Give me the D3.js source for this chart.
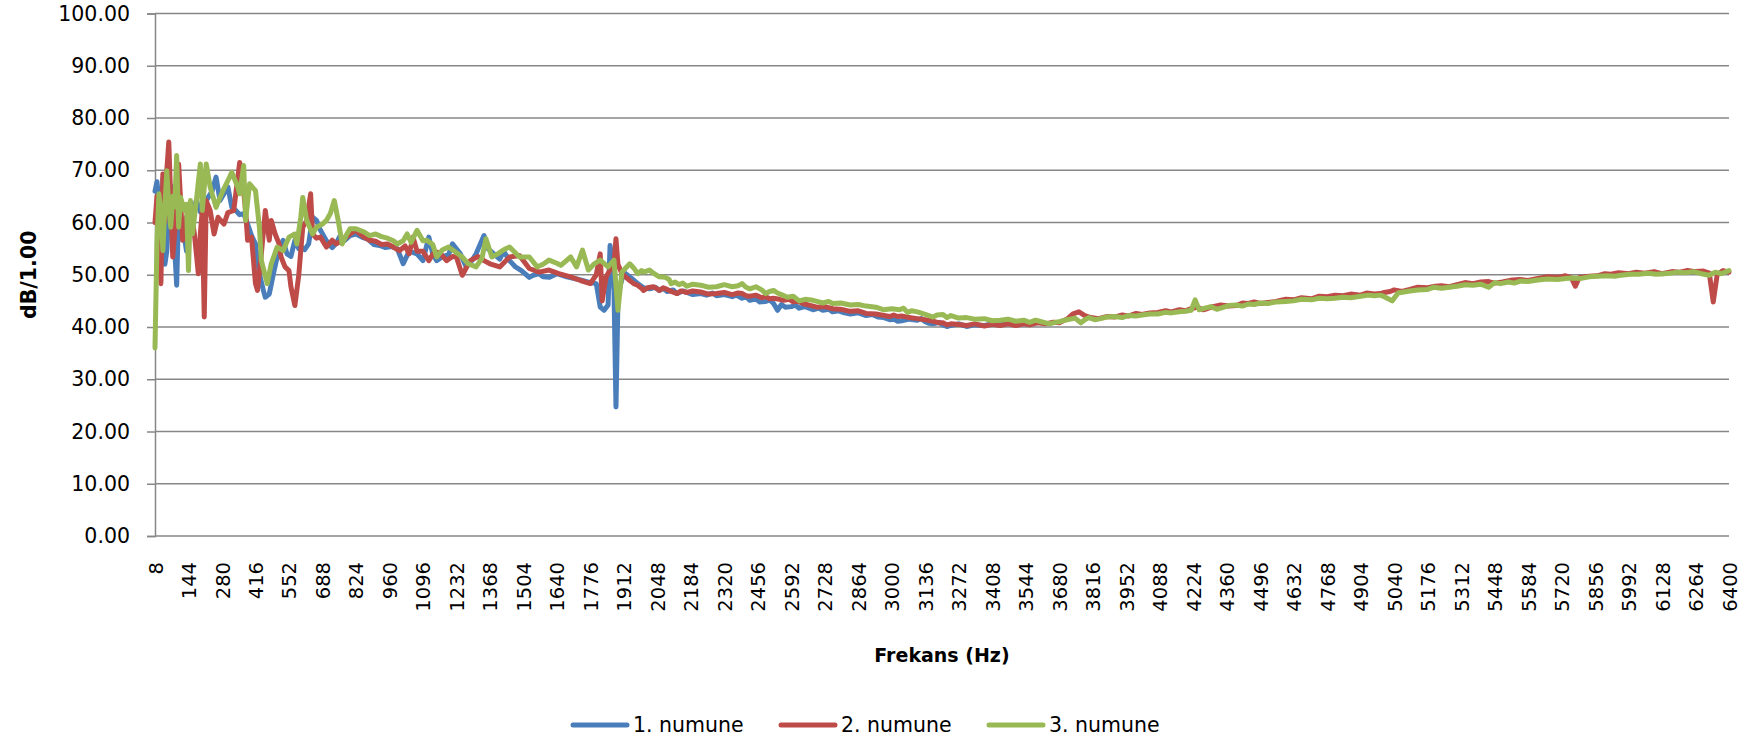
<!DOCTYPE html>
<html>
<head>
<meta charset="utf-8">
<script src="https://cdn.jsdelivr.net/npm/d3@7"></script>
<style>
  html, body { margin: 0; padding: 0; background: #ffffff; }
  svg { display: block; }
</style>
</head>
<body>
<svg id="chart" width="1746" height="741"></svg>
<script>
// ---- data ----
const seriesNames = ["1. numune", "2. numune", "3. numune"];
const seriesColors = ["#4A7EBB", "#BE4B48", "#98B954"];
const xTickLabels = [8,144,280,416,552,688,824,960,1096,1232,1368,1504,1640,1776,1912,2048,2184,2320,2456,2592,2728,2864,3000,3136,3272,3408,3544,3680,3816,3952,4088,4224,4360,4496,4632,4768,4904,5040,5176,5312,5448,5584,5720,5856,5992,6128,6264,6400];
const yTickValues = [0,10,20,30,40,50,60,70,80,90,100];

// [Hz, dB]
const numune1 = [[8,66],[16,67.8],[24,64],[32,55],[40,68.5],[48,52],[56,54.5],[64,63],[72,67],[80,62.5],[88,55],[96,48],[104,62.5],[112,61],[120,59.5],[136,54.5],[152,60],[168,63],[176,64.2],[192,62],[208,63.5],[224,64.8],[240,66],[256,68.7],[272,64.2],[288,65.5],[304,66.8],[320,62.9],[336,62.3],[352,61.5],[368,61.7],[384,59.7],[400,57.5],[416,55.9],[432,50.2],[448,47],[456,45.7],[472,46.3],[488,50],[504,53.4],[520,55.5],[528,56.6],[544,54],[560,53.5],[576,56.6],[592,55],[600,55.3],[616,54.8],[632,55.9],[648,61],[664,60.4],[680,58.5],[696,57.2],[712,55.9],[728,55.2],[744,56],[760,57.5],[776,56.5],[800,57.5],[824,57.8],[848,57.2],[872,56.8],[896,55.8],[920,55.6],[944,55.2],[968,55.4],[992,55],[1016,52.1],[1040,54.5],[1072,54],[1096,52.7],[1120,57.2],[1136,54],[1152,52.7],[1176,53.5],[1200,53.8],[1216,55.9],[1248,54],[1272,51.5],[1296,52.8],[1312,54],[1344,57.5],[1360,55],[1384,54],[1408,53],[1424,54.5],[1448,52.7],[1472,51.5],[1496,50.8],[1528,49.5],[1544,49.9],[1568,50.2],[1584,49.6],[1608,49.5],[1640,50.2],[1680,49.6],[1720,49.2],[1744,48.9],[1776,48.5],[1800,48.3],[1816,43.8],[1832,43.2],[1848,44.2],[1856,55.6],[1864,52],[1872,47],[1880,24.7],[1888,45],[1896,47.7],[1912,50.5],[1936,49.6],[1952,49],[1968,48.3],[1992,47.5],[2016,47.3],[2040,47.6],[2056,47],[2072,47.4],[2088,46.8],[2112,47.1],[2128,46.4],[2152,46.9],[2168,46.6],[2192,46.2],[2224,46.4],[2248,46.1],[2272,46.5],[2288,46],[2320,46.2],[2352,45.8],[2368,46.1],[2392,45.5],[2408,45.8],[2424,45.1],[2448,45.4],[2464,44.8],[2488,44.9],[2504,45.2],[2520,44.5],[2536,43.2],[2552,44.3],[2568,43.8],[2592,43.9],[2608,44.2],[2624,43.6],[2648,43.9],[2680,43.3],[2704,43.6],[2720,43.2],[2744,43.4],[2760,42.9],[2784,43.1],[2808,42.7],[2832,42.5],[2864,42.7],[2896,42.2],[2920,42.4],[2944,41.9],[2968,41.8],[2992,41.4],[3008,41.5],[3024,41.1],[3040,41.2],[3072,41.5],[3104,41.3],[3120,41.6],[3136,41],[3152,40.7],[3168,40.6],[3192,40.9],[3208,40.4],[3224,40.1],[3240,40.3],[3272,40.6],[3304,40.1],[3336,40.4],[3376,40.3],[3408,40.6],[3440,40.4],[3472,40.8],[3500,40.6],[3528,40.3],[3560,40.6],[3592,41],[3620,40.9],[3640,40.5],[3656,40.1],[3672,39.5],[3688,39.8],[3712,40.5],[3736,41.8],[3752,41.3],[3768,42.2],[3784,41.5],[3800,41.6],[3824,42],[3848,41.8],[3872,41.5],[3904,41.9],[3928,42.2],[3960,42],[3984,42.4],[4016,42.3],[4048,42.7],[4080,42.6],[4112,42.9],[4136,42.9],[4160,42.6],[4192,43],[4216,43.3],[4240,43.5],[4256,43.1],[4272,44],[4288,43.5],[4312,43.6],[4336,44.3],[4352,44.4],[4368,43.9],[4384,44.1],[4416,44.5],[4440,44.3],[4472,44.7],[4496,44.5],[4528,44.9],[4560,44.8],[4592,45.1],[4632,45.1],[4664,45.4],[4700,45.3],[4736,45.7],[4768,45.6],[4800,46],[4832,45.9],[4872,46.3],[4904,46.1],[4936,46.6],[4960,46.4],[4992,46.8],[5016,46.3],[5048,46.9],[5072,46.9],[5096,47.3],[5120,47],[5152,47.6],[5176,47.6],[5208,47.9],[5232,47.4],[5264,48.2],[5296,48.3],[5320,48.8],[5344,48.5],[5376,48.9],[5400,48],[5424,48.6],[5448,48.8],[5480,49.2],[5504,49],[5528,49.3],[5552,48.8],[5576,49.4],[5600,49.5],[5632,49.8],[5656,49.4],[5688,49.9],[5720,49.6],[5752,49.9],[5776,49.8],[5808,50.1],[5840,49.8],[5872,50.2],[5904,50],[5936,50.4],[5960,50.1],[5992,50.5],[6016,50.4],[6048,50.6],[6072,50.2],[6104,50.6],[6128,50.3],[6160,50.7],[6184,50.5],[6216,50.3],[6240,50.4],[6272,50.7],[6296,50.3],[6320,50.6],[6336,50.5],[6360,51.2],[6384,51.5],[6400,51]];

const numune2 = [[8,60],[16,65],[24,57],[32,48.3],[40,69.3],[48,60],[56,70],[64,75.4],[72,64.2],[80,53.4],[88,58],[96,62.3],[104,71.2],[112,64.2],[120,56.6],[136,61],[152,62.9],[168,57.8],[184,50.2],[192,57.8],[200,62.3],[208,41.9],[216,64.2],[232,62.3],[248,57.8],[264,61],[288,59.7],[304,61.9],[328,62.3],[336,65.5],[352,71.5],[368,66],[376,62.3],[384,56.6],[400,57.2],[416,48.3],[424,47],[440,54],[456,62.3],[472,56.6],[480,60.4],[496,57.8],[512,55.9],[520,53.4],[536,51.5],[552,50.8],[560,47.7],[576,44.1],[592,50],[600,54.6],[608,59.1],[624,60.4],[640,65.5],[648,57.8],[664,57],[680,57.2],[704,55.3],[728,56.6],[744,55.9],[768,56.6],[800,57.8],[824,58.5],[856,57.2],[880,56.6],[904,56.4],[928,55.8],[952,55.9],[976,55.3],[1000,54.6],[1024,55.5],[1040,54],[1056,57.2],[1072,54.5],[1096,54.5],[1120,52.7],[1144,54.5],[1168,54],[1192,52.7],[1216,53.5],[1232,53.4],[1256,49.9],[1288,52.7],[1320,53.5],[1344,52.7],[1368,52.1],[1408,51.5],[1448,53.4],[1488,53.7],[1528,51.2],[1568,50.5],[1608,50.9],[1648,50.2],[1696,49.6],[1736,48.9],[1776,48.3],[1800,50],[1816,54],[1824,45],[1840,49.6],[1856,50.9],[1872,52.1],[1880,56.9],[1888,52],[1904,50.2],[1936,48.9],[1952,48.3],[1968,48],[1984,47.4],[1992,47],[2008,47.5],[2032,47.7],[2048,47.3],[2056,47],[2072,47.5],[2088,47.2],[2104,46.8],[2128,46.4],[2144,46.9],[2168,46.6],[2192,46.9],[2224,46.7],[2256,46.3],[2288,46.4],[2320,46.6],[2352,46.2],[2376,46.5],[2392,46.4],[2408,46],[2424,45.9],[2448,46.1],[2472,45.6],[2488,45.8],[2504,45.4],[2520,45.5],[2544,45.3],[2560,45.1],[2584,45.3],[2600,44.8],[2616,45],[2640,44.5],[2664,44.2],[2696,43.8],[2728,43.9],[2760,43.5],[2792,43.4],[2832,43],[2864,43.1],[2896,42.6],[2936,42.5],[2968,42.2],[2992,42],[3008,42.3],[3024,42],[3040,42.1],[3072,41.8],[3104,41.6],[3136,41.4],[3168,41.1],[3192,40.8],[3208,40.8],[3224,40.4],[3240,40.6],[3272,40.5],[3304,40.3],[3336,40.6],[3376,40.2],[3408,40.5],[3440,40.3],[3472,40.6],[3504,40.3],[3536,40.6],[3560,40.4],[3592,40.8],[3624,40.6],[3656,40.9],[3680,40.8],[3696,41.2],[3712,41.5],[3736,42.5],[3760,42.9],[3784,42.2],[3808,41.8],[3840,41.6],[3872,42],[3904,41.9],[3936,42.3],[3960,42.1],[3992,42.6],[4016,42.4],[4048,42.7],[4080,42.8],[4112,43.1],[4136,42.9],[4168,43.3],[4192,43.1],[4216,43.5],[4240,43.8],[4264,43.3],[4280,43.5],[4304,43.9],[4336,44.2],[4368,44],[4400,44.1],[4424,44.6],[4448,44.5],[4472,44.8],[4496,44.5],[4528,44.7],[4560,44.9],[4600,45.3],[4632,45.2],[4664,45.6],[4704,45.4],[4736,45.9],[4768,45.8],[4800,46.1],[4832,46],[4864,46.3],[4904,46.1],[4928,46.5],[4960,46.3],[4984,46.4],[5000,46.6],[5024,46.8],[5040,47.1],[5072,46.8],[5104,47.2],[5136,47.6],[5176,47.5],[5208,47.8],[5232,47.9],[5264,47.7],[5296,48.1],[5328,48.5],[5360,48.3],[5392,48.6],[5424,48.7],[5448,48.4],[5480,48.6],[5520,49],[5552,49.1],[5584,48.9],[5624,49.3],[5664,49.6],[5704,49.5],[5736,49.8],[5760,49.4],[5776,47.8],[5792,49.5],[5832,49.7],[5864,49.8],[5896,50.2],[5920,50.1],[5952,50.4],[5992,50.2],[6024,50.5],[6056,50.3],[6096,50.6],[6128,50.2],[6168,50.6],[6200,50.5],[6232,50.8],[6264,50.6],[6296,50.7],[6320,50.3],[6336,44.8],[6352,50],[6376,50.8],[6400,50.5]];

const numune3 = [[8,36],[16,56],[24,65.5],[32,62],[40,54.6],[48,63],[56,69.9],[64,63],[72,59.1],[80,65],[88,63],[96,72.8],[104,59.1],[112,64.8],[120,63.5],[128,62.3],[136,63.5],[144,50.8],[152,64.2],[160,57.8],[176,64.2],[192,71.2],[200,62.3],[216,71.2],[232,66.8],[256,62.9],[272,64.8],[288,66.5],[304,68],[320,69.6],[344,66.8],[352,65.5],[368,70.9],[376,60.4],[392,67.4],[416,66.1],[432,59.1],[440,52.7],[464,48.3],[480,52.1],[504,55.3],[528,54.6],[552,57.2],[576,57.8],[584,55.9],[600,61],[608,64.8],[624,60.4],[648,57.8],[664,59.1],[688,59.7],[704,60.4],[720,61.7],[736,64.2],[752,60.4],[768,55.9],[784,57.5],[800,58.8],[824,58.8],[856,58.2],[880,57.5],[904,57.8],[928,57.3],[952,57],[976,56.5],[992,55.9],[1016,56.5],[1032,57.8],[1048,56.2],[1072,58.5],[1096,56.5],[1112,56.6],[1136,55.8],[1152,53.4],[1176,54.8],[1200,55.3],[1224,54.5],[1256,53.4],[1280,52.1],[1312,51.5],[1336,53.2],[1352,56.9],[1376,53.4],[1400,54],[1424,54.8],[1448,55.3],[1488,53.4],[1528,53.4],[1560,51.5],[1584,52],[1608,52.8],[1640,52.2],[1656,51.8],[1696,53.4],[1720,51.5],[1744,54.7],[1768,50.9],[1792,52.1],[1816,52.8],[1848,51.5],[1872,52.8],[1888,43.2],[1904,50.5],[1912,50.9],[1936,52.1],[1952,51.3],[1968,50.2],[1984,50.8],[1992,50.5],[2016,50.9],[2032,50.3],[2056,49.6],[2080,49.5],[2096,49.1],[2104,48.3],[2120,48.6],[2136,48.1],[2152,48.4],[2168,47.8],[2192,48.2],[2224,48],[2256,47.6],[2288,47.7],[2320,48.1],[2352,47.7],[2376,47.9],[2392,48.3],[2408,47.6],[2424,47.3],[2448,47.7],[2472,47.1],[2488,46.4],[2504,46.8],[2520,47],[2536,46.5],[2552,46.2],[2576,45.7],[2600,45.9],[2624,45],[2648,45.3],[2680,45.1],[2704,44.8],[2720,44.6],[2744,44.9],[2760,44.5],[2792,44.6],[2832,44.2],[2864,44.3],[2896,44],[2936,43.8],[2968,43.3],[3000,43.5],[3032,43.3],[3048,43.6],[3064,42.8],[3080,43.1],[3104,42.9],[3136,42.4],[3168,41.9],[3184,42.3],[3208,42.4],[3224,41.8],[3240,42.2],[3272,41.7],[3304,41.8],[3336,41.5],[3376,41.6],[3408,41.2],[3440,41.3],[3472,41.5],[3504,41.1],[3536,41.3],[3560,40.9],[3584,41.3],[3600,41.1],[3640,40.6],[3664,40.9],[3680,41],[3712,41.4],[3744,41.7],[3768,40.8],[3784,41.4],[3800,41.8],[3824,41.4],[3848,41.6],[3872,41.9],[3904,42],[3936,41.8],[3960,42.2],[3992,42.1],[4016,42.3],[4048,42.5],[4080,42.5],[4112,42.8],[4136,42.7],[4168,42.9],[4192,43],[4216,43.2],[4232,45.2],[4248,43.3],[4272,43.6],[4296,43.9],[4320,43.4],[4336,43.6],[4368,44.1],[4400,44.2],[4424,44],[4448,44.4],[4472,44.3],[4496,44.6],[4528,44.5],[4560,44.8],[4600,44.9],[4632,45],[4664,45.3],[4704,45.2],[4736,45.5],[4768,45.4],[4800,45.5],[4832,45.7],[4864,45.6],[4904,45.9],[4936,46.1],[4960,46],[4984,46.1],[5000,45.8],[5016,45.4],[5032,45],[5056,46.5],[5080,46.7],[5104,46.9],[5136,47.1],[5176,47.2],[5200,47.6],[5232,47.4],[5264,47.6],[5296,47.8],[5328,48.1],[5360,48],[5392,48.2],[5424,47.6],[5448,48.5],[5472,48.3],[5504,48.6],[5528,48.4],[5552,48.8],[5584,48.7],[5624,49],[5664,49.2],[5704,49.1],[5736,49.3],[5760,49.4],[5800,49.3],[5832,49.6],[5864,49.7],[5904,49.8],[5936,49.7],[5960,49.9],[6000,50.1],[6032,50.1],[6072,50.3],[6104,50.1],[6136,50.2],[6160,50.3],[6192,50.5],[6224,50.4],[6256,50.6],[6288,50.2],[6320,49.9],[6344,50.5],[6368,50.2],[6400,50.8]];

const seriesData = [numune1, numune2, numune3];

// ---- layout ----
const svg = d3.select("#chart");
const plotLeft = 155, plotRight = 1729, plotTop = 13.5, plotBottom = 536;

const categories = d3.range(8, 6401, 8); // frequency categories of the axis
const x = d3.scalePoint().domain(categories).range([plotLeft, plotRight]);
const y = d3.scaleLinear().domain([0, 100]).range([plotBottom, plotTop]);

const gridColor = "#878787";
const tickFont = "'DejaVu Sans', sans-serif";

// gridlines
svg.append("g")
  .selectAll("line")
  .data(yTickValues)
  .join("line")
  .attr("x1", plotLeft).attr("x2", plotRight)
  .attr("y1", d => y(d)).attr("y2", d => y(d))
  .attr("stroke", gridColor).attr("stroke-width", 1.5);

// y axis
const yAxis = svg.append("g")
  .attr("transform", `translate(${plotLeft},0)`)
  .call(d3.axisLeft(y).tickValues(yTickValues).tickFormat(d3.format(".2f")).tickSize(8).tickPadding(17));
yAxis.select(".domain").attr("stroke", gridColor).attr("stroke-width", 1.5);
yAxis.selectAll(".tick line").attr("stroke", gridColor).attr("stroke-width", 1.5);
yAxis.selectAll("text")
  .attr("font-family", tickFont).attr("font-size", 20.5).attr("fill", "#000");

// x axis
const xAxis = svg.append("g")
  .attr("transform", `translate(0,${plotBottom})`)
  .call(d3.axisBottom(x).tickValues(xTickLabels).tickSize(0));
xAxis.select(".domain").remove();
xAxis.selectAll("text")
  .attr("font-family", tickFont).attr("font-size", 19.5).attr("fill", "#000")
  .attr("transform", "rotate(-90)")
  .attr("text-anchor", "end")
  .attr("x", -26).attr("y", 0).attr("dy", "0.36em");

// series lines
const line = d3.line()
  .x(d => x(d[0]))
  .y(d => y(d[1]));

svg.append("g")
  .selectAll("path")
  .data(seriesData)
  .join("path")
  .attr("d", d => line(d))
  .attr("fill", "none")
  .attr("stroke", (d, i) => seriesColors[i])
  .attr("stroke-width", 5)
  .attr("stroke-linejoin", "round")
  .attr("stroke-linecap", "round");

// axis titles
svg.append("text")
  .attr("x", (plotLeft + plotRight) / 2).attr("y", 662)
  .attr("text-anchor", "middle")
  .attr("font-family", tickFont).attr("font-weight", "bold").attr("font-size", 19)
  .text("Frekans (Hz)");

svg.append("text")
  .attr("transform", `translate(36,${(plotTop + plotBottom) / 2}) rotate(-90)`)
  .attr("text-anchor", "middle")
  .attr("font-family", tickFont).attr("font-weight", "bold").attr("font-size", 20.5)
  .text("dB/1.00");

// legend
const legendX = [573, 781, 989];
const legend = svg.append("g");
seriesNames.forEach((name, i) => {
  legend.append("line")
    .attr("x1", legendX[i]).attr("x2", legendX[i] + 54)
    .attr("y1", 725).attr("y2", 725)
    .attr("stroke", seriesColors[i]).attr("stroke-width", 5)
    .attr("stroke-linecap", "round");
  legend.append("text")
    .attr("x", legendX[i] + 60).attr("y", 725).attr("dy", "0.36em")
    .attr("font-family", tickFont).attr("font-size", 20.5).attr("fill", "#000")
    .text(name);
});
</script>
</body>
</html>
